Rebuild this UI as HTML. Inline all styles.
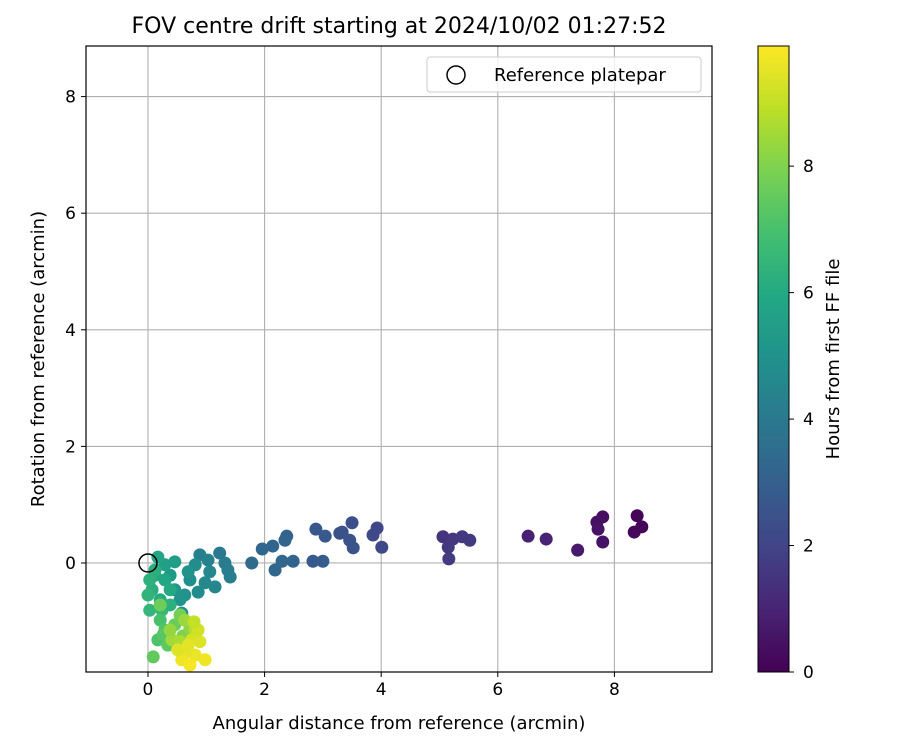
<!DOCTYPE html>
<html><head><meta charset="utf-8"><style>
body{margin:0;background:#fff}
svg text{font-family:"DejaVu Sans","Liberation Sans",sans-serif;fill:#000}
</style></head><body>
<svg id="chart" width="900" height="750" xmlns="http://www.w3.org/2000/svg">
<rect width="900" height="750" fill="#fff"/>
<g id="grid"></g>
<g id="pts"></g>
<rect x="86" y="46" width="626" height="626" fill="none" stroke="#000" stroke-width="1.2"/>
<g id="ticks"></g>
<text x="399" y="33" font-size="22" text-anchor="middle">FOV centre drift starting at 2024/10/02 01:27:52</text>
<text x="399" y="729" font-size="18" text-anchor="middle">Angular distance from reference (arcmin)</text>
<text transform="translate(44,359) rotate(-90)" font-size="18" text-anchor="middle">Rotation from reference (arcmin)</text>
<g>
<rect x="427" y="57" width="274" height="35" rx="3" fill="#fff" fill-opacity="0.8" stroke="#ccc"/>
<circle cx="456" cy="75" r="9" fill="none" stroke="#000" stroke-width="1.5"/>
<text x="494" y="81" font-size="18">Reference platepar</text>
</g>
<defs><linearGradient id="vir" x1="0" y1="1" x2="0" y2="0">
<stop offset="0" stop-color="#440154"/><stop offset="0.1" stop-color="#482475"/><stop offset="0.2" stop-color="#414487"/><stop offset="0.3" stop-color="#355f8d"/><stop offset="0.4" stop-color="#2a788e"/><stop offset="0.5" stop-color="#21918c"/><stop offset="0.6" stop-color="#22a884"/><stop offset="0.7" stop-color="#44bf70"/><stop offset="0.8" stop-color="#7ad151"/><stop offset="0.9" stop-color="#bddf26"/><stop offset="1" stop-color="#fde725"/>
</linearGradient></defs>
<rect x="758" y="46" width="31" height="626" fill="url(#vir)" stroke="#000" stroke-width="1"/>
<g id="cbticks"></g>
<text transform="translate(839,359) rotate(-90)" font-size="18" text-anchor="middle">Hours from first FF file</text>
</svg>
<script>
const xTicks=[0,2,4,6,8];
const yTicks=[0,2,4,6,8];
const cbTicks=[0,2,4,6,8];
const xs=[8.39,8.47,8.34,7.80,7.70,7.72,7.80,7.37,6.52,6.83,5.06,5.23,5.39,5.52,5.15,5.16,3.93,3.86,4.01,3.50,3.33,3.29,3.46,3.52,2.88,3.04,2.83,3.00,2.38,2.14,1.96,1.78,2.30,2.49,2.18,2.35,
0.89,1.03,1.23,1.32,1.37,1.41,1.15,1.06,0.81,0.72,0.86,0.63,0.46,0.55,0.38,0.29,0.46,0.69,0.98,0.58,
0.17,0.12,0.07,0.21,0.29,0.38,0.00,0.03,0.24,0.38,0.12,0.03,
0.21,0.29,0.17,0.34,0.26,0.46,0.55,0.09,0.21,0.60,0.72,
0.41,0.55,0.63,0.81,0.38,
0.75,0.89,0.81,0.65,0.58,0.72,0.98,0.86,0.79,0.51,0.69];
const ys=[0.81,0.62,0.53,0.79,0.70,0.58,0.36,0.22,0.46,0.41,0.45,0.41,0.45,0.39,0.27,0.07,0.60,0.48,0.27,0.69,0.53,0.51,0.39,0.26,0.58,0.46,0.03,0.03,0.46,0.29,0.24,0.00,0.03,0.03,-0.12,0.39,
0.14,0.05,0.17,0.00,-0.12,-0.24,-0.41,-0.15,-0.03,-0.29,-0.50,-0.55,-0.46,-0.63,-0.21,-0.03,0.02,-0.15,-0.34,-0.86,
0.10,-0.21,-0.46,-0.63,-0.29,-0.46,-0.55,-0.81,-0.81,-0.72,-0.12,-0.29,
-0.98,-1.15,-1.32,-1.41,-1.23,-1.06,-0.89,-1.61,-0.72,-1.25,-1.11,
-1.32,-1.35,-0.98,-1.15,-1.15,
-1.32,-1.35,-1.58,-1.53,-1.66,-1.75,-1.66,-1.15,-1.01,-1.49,-1.41];
const hours=[0.1,0.15,0.2,0.4,0.45,0.5,0.55,0.7,0.9,1.0,1.5,1.55,1.6,1.65,1.6,1.7,2.1,2.15,2.2,2.4,2.45,2.45,2.5,2.55,2.7,2.75,2.8,2.85,3.1,3.2,3.3,3.4,3.25,3.2,3.3,3.15,
4.3,4.4,4.0,4.1,4.15,4.2,4.5,4.6,4.8,4.9,4.7,5.0,5.2,5.1,5.4,5.6,5.5,5.0,4.6,4.8,
5.8,6.0,6.2,6.1,5.9,6.0,6.4,6.5,6.6,6.3,6.2,6.3,
7.0,7.2,7.1,7.4,7.3,7.6,7.8,7.5,7.7,8.0,8.2,
8.5,8.6,8.4,8.8,8.3,
9.3,9.4,9.6,9.5,9.7,9.8,9.7,9.2,9.0,9.4,9.5];
const X0=86,X1=712,Y0=46,Y1=672,xmin=-1.063,xmax=9.674,ymin=-1.870,ymax=8.868,cmax=9.9;
const sx=v=>X0+(v-xmin)/(xmax-xmin)*(X1-X0);
const sy=v=>Y1-(v-ymin)/(ymax-ymin)*(Y1-Y0);
const cy=v=>672-v/cmax*626;
const V=[[68,1,84],[72,36,117],[65,68,135],[53,95,141],[42,120,142],[33,145,140],[34,168,132],[68,191,112],[122,209,81],[189,223,38],[253,231,37]];
function vir(h){let t=Math.max(0,Math.min(1,h/cmax))*10;let i=Math.min(9,Math.floor(t)),f=t-i;
const c=V[i].map((a,k)=>Math.round(a+(V[i+1][k]-a)*f));return `rgb(${c})`;}
const NS="http://www.w3.org/2000/svg";
function mk(tag,at,parent){const e=document.createElementNS(NS,tag);for(const k in at)e.setAttribute(k,at[k]);parent.appendChild(e);return e;}
const grid=document.getElementById('grid'),ticks=document.getElementById('ticks'),pts=document.getElementById('pts'),cbt=document.getElementById('cbticks');
xTicks.forEach(v=>{const x=sx(v);
const g=mk('line',{x1:x,x2:x,y1:Y0,y2:Y1,stroke:'#b0b0b0','stroke-width':1.1},grid);


mk('line',{x1:x,x2:x,y1:Y1,y2:Y1+5,stroke:'#000'},ticks);
const t=mk('text',{x:x,y:Y1+23,'font-size':17,'text-anchor':'middle'},ticks);t.textContent=v;

});
yTicks.forEach(v=>{const y=sy(v);
const g=mk('line',{x1:X0,x2:X1,y1:y,y2:y,stroke:'#b0b0b0','stroke-width':1.1},grid);


mk('line',{x1:X0-5,x2:X0,y1:y,y2:y,stroke:'#000'},ticks);
const t=mk('text',{x:X0-10,y:y+6,'font-size':17,'text-anchor':'end'},ticks);t.textContent=v;

});
xs.forEach((v,i)=>{const c=mk('circle',{cx:sx(v),cy:sy(ys[i]),r:6.5,fill:vir(hours[i])},pts);

});
const ref=mk('circle',{cx:sx(0),cy:sy(0),r:9,fill:'none',stroke:'#000','stroke-width':1.5},pts);


cbTicks.forEach(v=>{const y=cy(v);
mk('line',{x1:789,x2:794,y1:y,y2:y,stroke:'#000'},cbt);
const t=mk('text',{x:803,y:y+6,'font-size':17},cbt);t.textContent=v;

});
</script>
</body></html>
